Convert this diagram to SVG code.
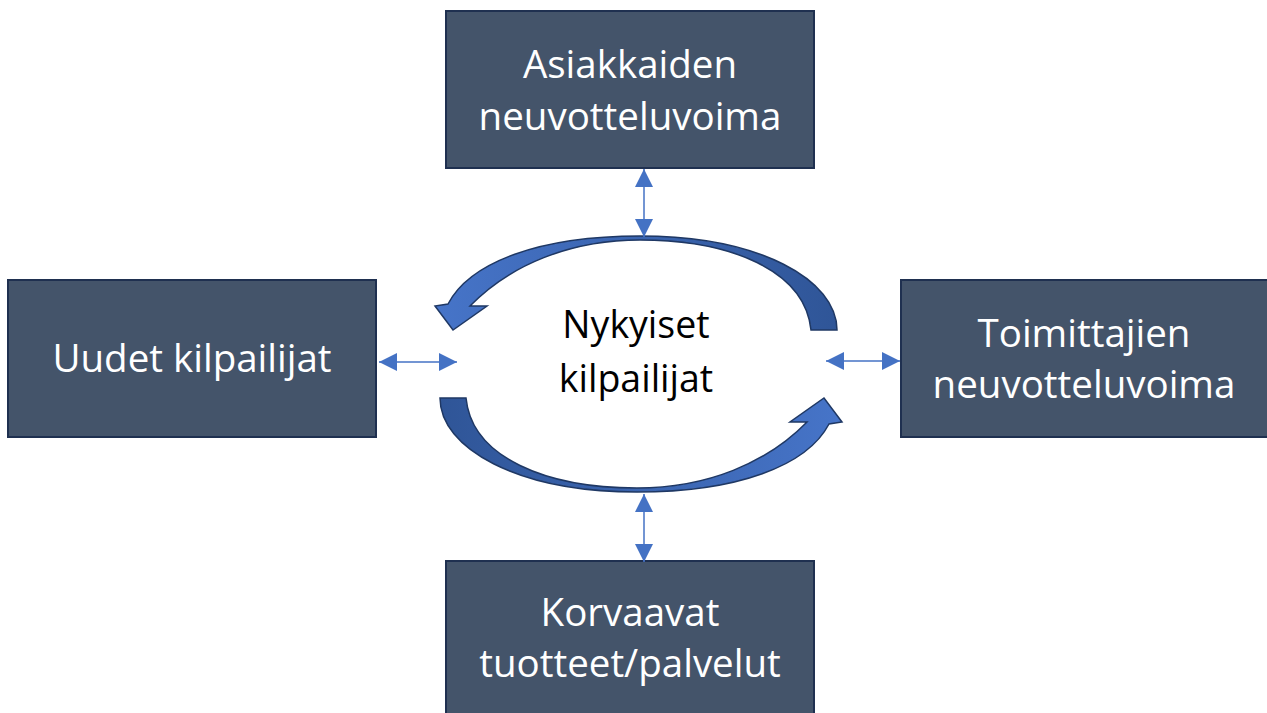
<svg xmlns="http://www.w3.org/2000/svg" width="1267" height="713" viewBox="0 0 1267 713">
<style>
.box{fill:#44546a;stroke:#1f3050;stroke-width:2}
.bt{fill:#ffffff;font-family:"Open Sans","Noto Sans",sans-serif;font-size:38.5px;text-anchor:middle}
.ct{fill:#000000;font-family:"Open Sans","Noto Sans",sans-serif;font-size:37.5px;text-anchor:middle}
.conn{stroke:#4472c4;stroke-width:1.5;fill:none;marker-start:url(#ah);marker-end:url(#ah)}
.curve{fill:url(#cg);stroke:#1f3864;stroke-width:1.5;stroke-linejoin:miter}
</style>
<defs>
<marker id="ah" viewBox="0 0 10 10" refX="10" refY="5" markerUnits="userSpaceOnUse" markerWidth="18" markerHeight="19" orient="auto-start-reverse">
<path d="M0,0 L10,5 L0,10 z" fill="#4472c4"/>
</marker>
<linearGradient id="cg" gradientUnits="userSpaceOnUse" x1="440" y1="0" x2="840" y2="0">
<stop offset="0" stop-color="#4674c8"/>
<stop offset="1" stop-color="#2f5597"/>
</linearGradient>
</defs>
<rect width="1267" height="713" fill="#ffffff"/>
<g id="top-node">
<rect class="box" x="446" y="11" width="368" height="157"/>
<text class="bt" x="630" y="78">Asiakkaiden</text>
<text class="bt" x="630" y="130">neuvotteluvoima</text>
</g>
<g id="left-node">
<rect class="box" x="8" y="280" width="368" height="157"/>
<text class="bt" x="192" y="372">Uudet kilpailijat</text>
</g>
<g id="right-node">
<rect class="box" x="901" y="280" width="368" height="157"/>
<text class="bt" x="1084" y="347">Toimittajien</text>
<text class="bt" x="1084" y="398">neuvotteluvoima</text>
</g>
<g id="bottom-node">
<rect class="box" x="446" y="561" width="368" height="160"/>
<text class="bt" x="630" y="626">Korvaavat</text>
<text class="bt" x="630" y="677">tuotteet/palvelut</text>
</g>
<g id="center-node">
<path class="curve" d="M837 330 C837 280 760 236 640 236 C540 236 470 262 448 304 L435 306 L453 330 L487 306 L470 306 C510 265 570 240 640 240 C730 240 805 270 811 330 Z"/>
<path class="curve" transform="rotate(180 638.5 364)" d="M837 330 C837 280 760 236 640 236 C540 236 470 262 448 304 L435 306 L453 330 L487 306 L470 306 C510 265 570 240 640 240 C730 240 805 270 811 330 Z"/>
<text class="ct" x="636" y="338">Nykyiset</text>
<text class="ct" x="636" y="392">kilpailijat</text>
</g>
<g id="connectors">
<line class="conn" x1="644" y1="169" x2="644" y2="237"/>
<line class="conn" x1="644" y1="494" x2="644" y2="562"/>
<line class="conn" x1="379" y1="362" x2="457" y2="362"/>
<line class="conn" x1="826" y1="361" x2="900" y2="361"/>
</g>
</svg>
